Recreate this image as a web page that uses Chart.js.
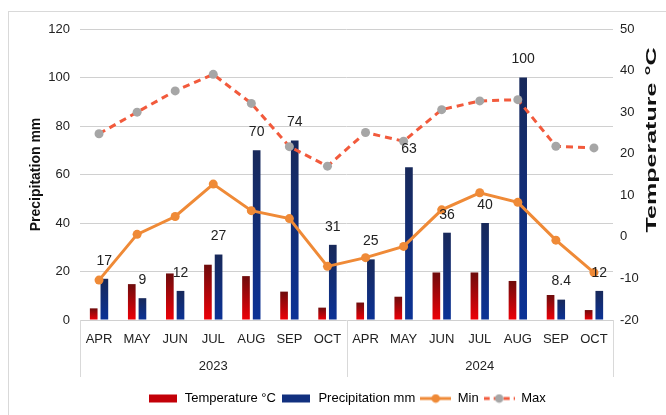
<!DOCTYPE html>
<html>
<head>
<meta charset="utf-8">
<script src="https://cdn.jsdelivr.net/npm/chart.js@4"></script>
<style>
  html, body { margin: 0; padding: 0; background: #fff; overflow: hidden; }
  #wrap { position: relative; width: 666px; height: 415px; }
  #frame { position: absolute; left: 8px; top: 11px; width: 700px; height: 450px; border: 1px solid #d9d9d9; }
  canvas { position: absolute; left: 0; top: 0; }
</style>
</head>
<body>
<div id="wrap">
  <div id="frame"></div>
  <canvas id="climate" width="666" height="415"></canvas>
</div>
<script>
const categories = ['APR', 'MAY', 'JUN', 'JUL', 'AUG', 'SEP', 'OCT',
                    'APR', 'MAY', 'JUN', 'JUL', 'AUG', 'SEP', 'OCT'];
const years = ['2023', '2024'];
const temperature = [4.8, 14.8, 19.2, 22.8, 18.1, 11.7, 5.1, 7.2, 9.6, 19.6, 19.6, 16.1, 10.3, 4.1];
const precipitation = [17, 9, 12, 27, 70, 74, 31, 25, 63, 36, 40, 100, 8.4, 12];
const tMin = [-10.4, 0.6, 4.9, 12.7, 6.3, 4.4, -7.1, -5.0, -2.3, 6.5, 10.6, 8.3, -0.8, -8.6];
const tMax = [24.8, 30.0, 35.1, 39.1, 32.1, 21.7, 17.0, 25.1, 23.0, 30.6, 32.7, 33.0, 21.8, 21.4];

Chart.defaults.font.family = "'Liberation Sans', Arial, sans-serif";
Chart.defaults.color = '#222';

// vertical gradient per bar, dark at the top
function barFill(topColor, bottomColor) {
  return (c) => {
    const chart = c.chart;
    if (c.type !== 'data' || !chart.chartArea) return bottomColor;
    const y = chart.scales.y;
    const top = y.getPixelForValue(c.parsed.y);
    const base = y.getPixelForValue(0);
    const g = chart.ctx.createLinearGradient(0, top, 0, base);
    g.addColorStop(0, topColor);
    g.addColorStop(1, bottomColor);
    return g;
  };
}

function legendIcon(kind) {
  const cv = document.createElement('canvas');
  cv.width = (kind === 'temp' || kind === 'prec') ? 28 : 31;
  cv.height = 10;
  const g = cv.getContext('2d');
  if (kind === 'temp' || kind === 'prec') {
    g.fillStyle = kind === 'temp' ? '#c30008' : '#12307f';
    g.fillRect(0, 1, 28, 8);
  } else {
    g.lineWidth = 3;
    g.strokeStyle = kind === 'min' ? '#ef8a37' : '#f25a3c';
    if (kind === 'max') g.setLineDash([6, 4]);
    g.beginPath(); g.moveTo(0, 5); g.lineTo(cv.width, 5); g.stroke();
    g.fillStyle = kind === 'min' ? '#ef8a37' : '#a6a6a6';
    g.beginPath(); g.arc(cv.width / 2, 5, 4.3, 0, Math.PI * 2); g.fill();
  }
  return cv;
}
const icons = [legendIcon('temp'), legendIcon('prec'), legendIcon('min'), legendIcon('max')];

const extras = {
  id: 'extras',
  afterDatasetsDraw(chart) {
    const ctx = chart.ctx;
    const meta = chart.getDatasetMeta(1);
    ctx.save();
    ctx.font = "14px 'Liberation Sans', Arial, sans-serif";
    ctx.fillStyle = '#222';
    ctx.textAlign = 'center';
    ctx.textBaseline = 'middle';
    meta.data.forEach((bar, i) => {
      ctx.fillText(String(precipitation[i]), bar.x, bar.y - 18);
    });
    ctx.restore();
  },
  afterDraw(chart) {
    const ctx = chart.ctx;
    const x = chart.scales.x;
    const area = chart.chartArea;
    const step = (x.right - x.left) / categories.length;
    ctx.save();
    ctx.strokeStyle = '#d9d9d9';
    ctx.lineWidth = 1;
    [0, 7, 14].forEach(i => {
      const px = Math.round(x.left + i * step) + 0.5;
      ctx.beginPath(); ctx.moveTo(px, area.bottom); ctx.lineTo(px, 377); ctx.stroke();
    });
    // right axis title, reading bottom to top
    ctx.font = "bold 14px 'Liberation Sans', Arial, sans-serif";
    ctx.fillStyle = '#111';
    ctx.textAlign = 'center';
    ctx.textBaseline = 'middle';
    const w = ctx.measureText('Temperature °C').width;
    ctx.translate(652, 140);
    ctx.rotate(-Math.PI / 2);
    ctx.scale(185 / w, 1);
    ctx.fillText('Temperature °C', 0, 0);
    ctx.restore();
  }
};

new Chart(document.getElementById('climate'), {
  type: 'bar',
  data: {
    labels: categories,
    datasets: [
      {
        label: 'Temperature °C',
        data: temperature,
        backgroundColor: barFill('#6e0c0c', '#ee0008'),
        categoryPercentage: 0.56,
        barPercentage: 0.72,
        order: 2
      },
      {
        label: 'Precipitation mm',
        data: precipitation,
        backgroundColor: barFill('#18295a', '#0b3296'),
        categoryPercentage: 0.56,
        barPercentage: 0.72,
        order: 2
      },
      {
        type: 'line',
        label: 'Min',
        data: tMin,
        yAxisID: 'y1',
        borderColor: '#ef8a37',
        backgroundColor: '#ef8a37',
        borderWidth: 3,
        pointRadius: 4.5,
        pointBorderWidth: 0,
        tension: 0,
        order: 1
      },
      {
        type: 'line',
        label: 'Max',
        data: tMax,
        yAxisID: 'y1',
        borderColor: '#f25a3c',
        backgroundColor: '#a6a6a6',
        borderWidth: 3,
        borderDash: [7, 5],
        pointRadius: 4.5,
        pointBorderWidth: 0,
        tension: 0,
        order: 1
      }
    ]
  },
  options: {
    responsive: false,
    animation: false,
    layout: { padding: { left: 28, top: 29, right: 0, bottom: 0 } },
    plugins: {
      tooltip: { enabled: false },
      legend: {
        position: 'bottom',
        fullSize: false,
        labels: {
          usePointStyle: true,
          pointStyleWidth: 31,
          padding: 5,
          font: { size: 13 },
          color: '#222',
          generateLabels: (chart) => chart.data.datasets.map((ds, i) => ({
            text: ds.label,
            pointStyle: icons[i],
            datasetIndex: i,
            hidden: false,
            lineWidth: 0,
            strokeStyle: 'transparent',
            fillStyle: 'transparent'
          }))
        }
      }
    },
    scales: {
      x: {
        offset: true,
        grid: { display: false },
        border: { display: false },
        ticks: { padding: 4, font: { size: 13 }, color: '#222', maxRotation: 0, autoSkip: false },
        afterFit: s => { s.height = 29; }
      },
      x2: {
        type: 'category',
        position: 'bottom',
        labels: years,
        offset: true,
        grid: { display: false },
        border: { display: false },
        ticks: { padding: 2, font: { size: 13 }, color: '#222' },
        afterFit: s => { s.height = 38; }
      },
      y: {
        position: 'left',
        min: 0,
        max: 120,
        ticks: { stepSize: 20, padding: 10, font: { size: 13 }, color: '#222' },
        grid: { color: '#d0d0d0', drawTicks: false },
        border: { display: false },
        title: {
          display: true,
          text: 'Precipitation mm',
          font: { size: 14, weight: 'bold' },
          color: '#111',
          padding: { top: 0, bottom: 0 }
        },
        afterFit: s => { s.width = 52; }
      },
      y1: {
        position: 'right',
        min: -20,
        max: 50,
        ticks: { stepSize: 10, padding: 7, font: { size: 13 }, color: '#222' },
        grid: { drawOnChartArea: false, drawTicks: false },
        border: { display: false },
        afterFit: s => { s.width = 53; }
      }
    }
  },
  plugins: [extras]
});
</script>
</body>
</html>
